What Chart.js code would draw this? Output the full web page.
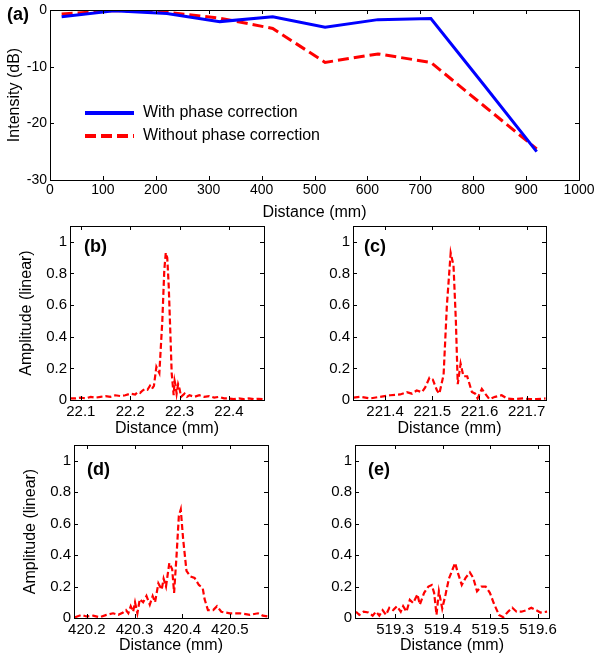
<!DOCTYPE html>
<html>
<head>
<meta charset="utf-8">
<script src="https://cdn.jsdelivr.net/npm/chart.js@4.4.1/dist/chart.umd.min.js"></script>
<style>
  body { margin: 0; width: 597px; height: 655px; background: #fff; position: relative; overflow: hidden; font-family: "Liberation Sans", Arial, sans-serif; }
  canvas { position: absolute; }
  .tag { position: absolute; font-weight: bold; font-size: 18px; line-height: 18px; color: #000; white-space: nowrap; }
</style>
</head>
<body>
<canvas id="chartA" width="597" height="222" style="left:0;top:0"></canvas>
<canvas id="chartB" width="269" height="232" style="left:15px;top:206px"></canvas>
<canvas id="chartC" width="246" height="232" style="left:320px;top:206px"></canvas>
<canvas id="chartD" width="269" height="230" style="left:19px;top:425px"></canvas>
<canvas id="chartE" width="249" height="230" style="left:320px;top:425px"></canvas>

<div class="tag" style="left:7px;top:5px">(a)</div>
<div class="tag" style="left:84px;top:237px">(b)</div>
<div class="tag" style="left:364px;top:237px">(c)</div>
<div class="tag" style="left:87px;top:460px">(d)</div>
<div class="tag" style="left:368px;top:460px">(e)</div>

<script>
// (a) peak intensity vs. distance
const distA = [22, 121, 221, 321, 421, 520, 620, 720, 820, 920];
const withCorr = [-1.2, -0.15, -0.6, -2.05, -1.2, -3.05, -1.7, -1.5, -13.2, -25.0];
const withoutCorr = [-0.7, -0.1, -0.4, -1.45, -3.25, -9.25, -7.75, -9.25, -16.9, -24.5];
const xTicksA = [0, 100, 200, 300, 400, 500, 600, 700, 800, 900, 1000];
const yTicksA = [-30, -20, -10, 0];

// (b)-(e) point spread profiles
const distB = [22.078, 22.09, 22.10, 22.11, 22.12, 22.13, 22.14, 22.15, 22.16, 22.17,
  22.18, 22.19, 22.20, 22.21, 22.215, 22.22, 22.225, 22.23, 22.235, 22.24,
  22.244, 22.248, 22.253, 22.259, 22.265, 22.269, 22.272, 22.275, 22.278, 22.281,
  22.284, 22.286, 22.288, 22.290, 22.292, 22.294, 22.297, 22.300, 22.303, 22.31,
  22.315, 22.32, 22.33, 22.34, 22.35, 22.36, 22.37, 22.38, 22.39, 22.40,
  22.41, 22.42, 22.43, 22.44, 22.45, 22.46, 22.471];
const ampB = [0.01, 0.01, 0.015, 0.01, 0.02, 0.015, 0.02, 0.025, 0.02, 0.03,
  0.025, 0.03, 0.04, 0.035, 0.05, 0.045, 0.06, 0.07, 0.065, 0.09,
  0.07, 0.09, 0.21, 0.17, 0.5, 0.82, 0.93, 0.9, 0.72, 0.45,
  0.17, 0.1, 0.03, 0.12, 0.09, 0.04, 0.1, 0.07, 0.02, 0.04,
  0.02, 0.03, 0.02, 0.03, 0.02, 0.025, 0.015, 0.02, 0.01, 0.01,
  0.005, 0.01, 0.005, 0.01, 0.005, 0.008, 0.005];

const distC = [221.333, 221.347, 221.368, 221.389, 221.411, 221.432, 221.446, 221.457, 221.467, 221.478,
  221.485, 221.494, 221.501, 221.51, 221.515, 221.524, 221.531, 221.539, 221.545, 221.55,
  221.554, 221.56, 221.566, 221.574, 221.584, 221.591, 221.596, 221.605, 221.612, 221.621,
  221.633, 221.647, 221.658, 221.672, 221.693, 221.707, 221.721, 221.74];
const ampC = [0.015, 0.02, 0.01, 0.02, 0.03, 0.035, 0.05, 0.04, 0.06, 0.05,
  0.08, 0.14, 0.13, 0.06, 0.04, 0.16, 0.6, 0.93, 0.85, 0.5,
  0.1, 0.23, 0.15, 0.15, 0.05, 0.04, 0.01, 0.07, 0.04, 0.005,
  0.02, 0.03, 0.01, 0.005, 0.01, 0.005, 0.005, 0.01];

const distD = [420.175, 420.189, 420.199, 420.213, 420.227, 420.241, 420.255, 420.266, 420.276, 420.282,
  420.287, 420.292, 420.297, 420.301, 420.306, 420.311, 420.318, 420.325, 420.332, 420.338,
  420.343, 420.35, 420.357, 420.361, 420.366, 420.373, 420.379, 420.383, 420.388, 420.393,
  420.397, 420.402, 420.409, 420.417, 420.426, 420.435, 420.443, 420.447, 420.454, 420.465,
  420.473, 420.482, 420.5, 420.521, 420.542, 420.559, 420.569, 420.58];
const ampD = [0.005, 0.02, 0.01, 0.015, 0.005, 0.02, 0.03, 0.02, 0.035, 0.05,
  0.03, 0.075, 0.04, 0.1, 0.03, 0.12, 0.1, 0.14, 0.085, 0.14,
  0.1, 0.22, 0.18, 0.25, 0.2, 0.35, 0.31, 0.16, 0.39, 0.65,
  0.69, 0.5, 0.3, 0.265, 0.255, 0.21, 0.19, 0.12, 0.05, 0.05,
  0.075, 0.04, 0.03, 0.03, 0.02, 0.03, 0.015, 0.01];

const distE = [519.218, 519.225, 519.234, 519.244, 519.253, 519.26, 519.267, 519.274, 519.281, 519.288,
  519.296, 519.304, 519.312, 519.317, 519.324, 519.331, 519.338, 519.347, 519.352, 519.361,
  519.37, 519.377, 519.382, 519.387, 519.392, 519.399, 519.406, 519.413, 519.426, 519.432,
  519.44, 519.448, 519.457, 519.464, 519.472, 519.481, 519.49, 519.499, 519.507, 519.518,
  519.527, 519.537, 519.546, 519.555, 519.565, 519.576, 519.586, 519.596, 519.605, 519.619];
const ampE = [0.04, 0.02, 0.04, 0.035, 0.015, 0.04, 0.015, 0.05, 0.02, 0.065,
  0.05, 0.075, 0.04, 0.075, 0.04, 0.115, 0.095, 0.15, 0.085, 0.16,
  0.2, 0.21, 0.16, 0.02, 0.17, 0.06, 0.15, 0.25, 0.35, 0.285,
  0.21, 0.255, 0.29, 0.255, 0.17, 0.2, 0.2, 0.16, 0.095, 0.02,
  0.005, 0.04, 0.065, 0.04, 0.04, 0.05, 0.065, 0.05, 0.035, 0.04];

const ampTicks = [0, 0.2, 0.4, 0.6, 0.8, 1];
const ampTickLabels = ['0', '0.2', '0.4', '0.6', '0.8', '1'];
const xTicksB = [22.1, 22.2, 22.3, 22.4];
const xTicksC = [221.4, 221.5, 221.6, 221.7];
const xTicksD = [420.2, 420.3, 420.4, 420.5];
const xTicksE = [519.3, 519.4, 519.5, 519.6];

const FONT = '"Liberation Sans", Arial, sans-serif';
const BLUE = '#0000ff';
const RED = '#ff0000';

function points(xs, ys) {
    return xs.map((x, i) => ({ x: x, y: ys[i] }));
}

// MATLAB-style box with inward tick marks
const boxPlugin = {
    id: 'box',
    afterDraw(chart) {
        const { ctx, chartArea: a, scales: { x, y } } = chart;
        const len = 4;
        ctx.save();
        ctx.strokeStyle = '#000';
        ctx.lineWidth = 1;
        ctx.beginPath();
        x.ticks.forEach(t => {
            const px = Math.round(x.getPixelForValue(t.value)) + 0.5;
            ctx.moveTo(px, a.bottom); ctx.lineTo(px, a.bottom - len);
            ctx.moveTo(px, a.top); ctx.lineTo(px, a.top + len);
        });
        y.ticks.forEach(t => {
            const py = Math.round(y.getPixelForValue(t.value)) + 0.5;
            ctx.moveTo(a.left, py); ctx.lineTo(a.left + len, py);
            ctx.moveTo(a.right, py); ctx.lineTo(a.right - len, py);
        });
        ctx.stroke();
        ctx.strokeRect(Math.round(a.left) + 0.5, Math.round(a.top) + 0.5,
            Math.round(a.right - a.left), Math.round(a.bottom - a.top));
        ctx.restore();
    }
};

// legend drawn inside the plot area, no frame
const insideLegend = {
    id: 'insideLegend',
    afterDatasetsDraw(chart) {
        const { ctx, chartArea: a } = chart;
        ctx.save();
        ctx.font = '16px ' + FONT;
        ctx.textBaseline = 'middle';
        ctx.fillStyle = '#000';
        chart.data.datasets.forEach((ds, i) => {
            const ly = a.top + 103 + i * 23;
            ctx.strokeStyle = ds.borderColor;
            ctx.lineWidth = ds.borderWidth + 1;
            ctx.setLineDash(ds.borderDash || []);
            ctx.beginPath();
            ctx.moveTo(a.left + 35, ly);
            ctx.lineTo(a.left + 84, ly);
            ctx.stroke();
            ctx.setLineDash([]);
            ctx.fillText(ds.label, a.left + 93, ly);
        });
        ctx.restore();
    }
};

function makeChart(id, cfg) {
    const yAxisTitle = cfg.yTitle
        ? { display: true, text: cfg.yTitle, color: '#000', font: { family: FONT, size: 16 }, padding: { top: cfg.yTitlePad, bottom: 0 } }
        : { display: false };
    return new Chart(document.getElementById(id), {
        type: 'line',
        data: { datasets: cfg.datasets },
        options: {
            responsive: false,
            animation: false,
            devicePixelRatio: 1,
            layout: { padding: { left: 0, top: cfg.padTop, right: cfg.padRight, bottom: 0 } },
            plugins: { legend: { display: false }, tooltip: { enabled: false } },
            elements: { point: { radius: 0 }, line: { tension: 0 } },
            scales: {
                x: {
                    type: 'linear',
                    position: 'bottom',
                    min: cfg.xMin,
                    max: cfg.xMax,
                    grid: { display: false, drawTicks: false },
                    border: { display: false },
                    ticks: {
                        color: '#000',
                        font: { family: FONT, size: cfg.tickSize },
                        padding: cfg.xTickPad,
                        maxRotation: 0,
                        autoSkip: false,
                        callback: cfg.xFormat
                    },
                    title: { display: true, text: 'Distance (mm)', color: '#000', font: { family: FONT, size: 16 }, padding: 0 },
                    afterBuildTicks: s => { s.ticks = cfg.xTicks.map(v => ({ value: v })); },
                    afterFit: s => { s.height = cfg.xAxisH; s.paddingLeft = 0; s.paddingRight = 0; }
                },
                y: {
                    type: 'linear',
                    position: 'left',
                    min: cfg.yMin,
                    max: cfg.yMax,
                    grid: { display: false, drawTicks: false },
                    border: { display: false },
                    ticks: {
                        color: '#000',
                        font: { family: FONT, size: cfg.tickSize },
                        padding: 3,
                        autoSkip: false,
                        callback: cfg.yFormat
                    },
                    title: yAxisTitle,
                    afterBuildTicks: s => { s.ticks = cfg.yTicks.map(v => ({ value: v })); },
                    afterFit: s => { s.width = cfg.yAxisW; s.paddingTop = 0; s.paddingBottom = 0; }
                }
            }
        },
        plugins: cfg.plugins
    });
}

function profileSet(xs, ys) {
    return [{
        label: 'Without phase correction',
        data: points(xs, ys),
        borderColor: RED,
        borderWidth: 2.2,
        borderDash: [6, 3],
        fill: false
    }];
}

const fmt1 = v => v.toFixed(1);
const ampFmt = (v, i) => ampTickLabels[i];

makeChart('chartA', {
    datasets: [
        { label: 'With phase correction', data: points(distA, withCorr), borderColor: BLUE, borderWidth: 3, fill: false },
        { label: 'Without phase correction', data: points(distA, withoutCorr), borderColor: RED, borderWidth: 3, borderDash: [11, 5], fill: false }
    ],
    xMin: 0, xMax: 1000, yMin: -30, yMax: 0,
    xTicks: xTicksA, yTicks: yTicksA,
    xFormat: v => String(v), yFormat: v => String(v),
    tickSize: 14, xTickPad: 2,
    yTitle: 'Intensity (dB)', yTitlePad: 5,
    yAxisW: 50, xAxisH: 42, padTop: 10, padRight: 18,
    plugins: [boxPlugin, insideLegend]
});

const profileBase = {
    yMin: 0, yMax: 1.1, yTicks: ampTicks, yFormat: ampFmt, xFormat: fmt1,
    tickSize: 15, xTickPad: 3, padTop: 20, padRight: 20, plugins: [boxPlugin]
};

makeChart('chartB', Object.assign({}, profileBase, {
    datasets: profileSet(distB, ampB), xMin: 22.078, xMax: 22.471, xTicks: xTicksB,
    yTitle: 'Amplitude (linear)', yTitlePad: 2.4, yAxisW: 55, xAxisH: 38
}));

makeChart('chartC', Object.assign({}, profileBase, {
    datasets: profileSet(distC, ampC), xMin: 221.332, xMax: 221.741, xTicks: xTicksC,
    yAxisW: 33, xAxisH: 38
}));

makeChart('chartD', Object.assign({}, profileBase, {
    datasets: profileSet(distD, ampD), xMin: 420.173, xMax: 420.58, xTicks: xTicksD,
    yTitle: 'Amplitude (linear)', yTitlePad: 2.4, yAxisW: 55, xAxisH: 37
}));

makeChart('chartE', Object.assign({}, profileBase, {
    datasets: profileSet(distE, ampE), xMin: 519.216, xMax: 519.623, xTicks: xTicksE,
    yAxisW: 35, xAxisH: 37
}));
</script>
</body>
</html>
